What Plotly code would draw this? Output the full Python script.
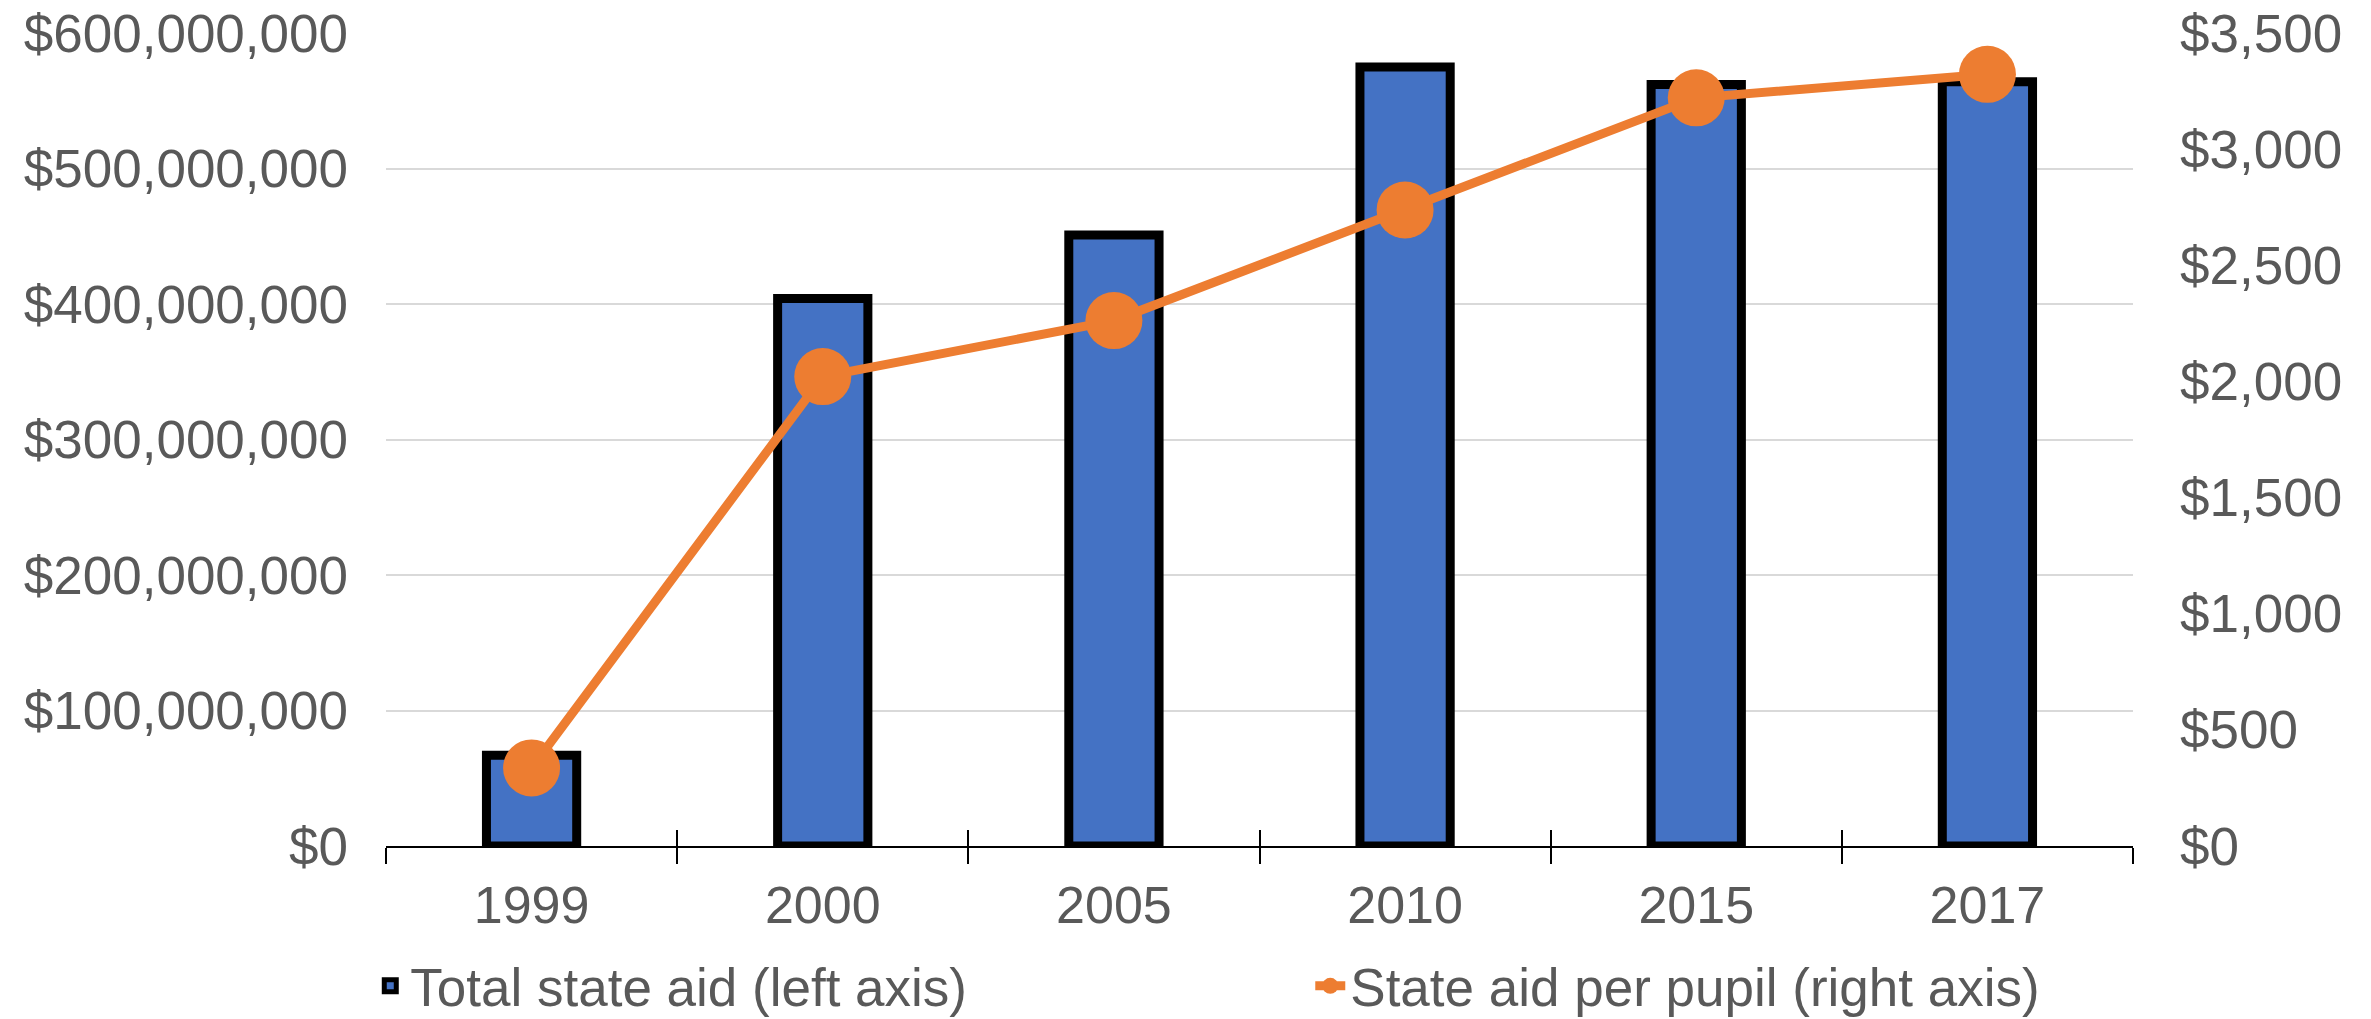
import plotly.graph_objects as go

years = ["1999", "2000", "2005", "2010", "2015", "2017"]
total_aid = [67_000_000, 404_000_000, 451_000_000, 575_000_000, 562_000_000, 564_000_000]
aid_per_pupil = [336, 2021, 2262, 2738, 3221, 3322]

left_ticks = [0, 100_000_000, 200_000_000, 300_000_000, 400_000_000, 500_000_000, 600_000_000]
right_ticks = [0, 500, 1000, 1500, 2000, 2500, 3000, 3500]
left_labels = ["$" + format(v, ",") for v in left_ticks]
right_labels = ["$" + format(v, ",") for v in right_ticks]

FONT = "Liberation Sans, Arial, sans-serif"
GREY = "#595959"

fig = go.Figure()
fig.add_trace(go.Bar(
    x=years, y=total_aid, name="Total state aid (left axis)",
    marker=dict(color="#4472C4", line=dict(color="black", width=9)),
    width=0.31, yaxis="y",
))
fig.add_trace(go.Scatter(
    x=years, y=aid_per_pupil, name="State aid per pupil (right axis)",
    mode="lines+markers", yaxis="y2",
    line=dict(color="#ED7D31", width=9),
    marker=dict(color="#ED7D31", size=57),
))
# invisible carrier so the overlaid tick axis (inside ticks) gets drawn
fig.add_trace(go.Scatter(
    x=years, y=[None] * len(years), xaxis="x2", yaxis="y",
    showlegend=False, hoverinfo="skip", mode="markers",
))

fig.update_layout(
    width=2371, height=1019,
    margin=dict(l=386, r=238, t=33, b=173, autoexpand=False),
    paper_bgcolor="white", plot_bgcolor="white",
    font=dict(family=FONT, size=52, color=GREY),
    showlegend=True,
    legend=dict(orientation="h", x=-0.009, y=-0.172, xanchor="left", yanchor="middle",
                font=dict(size=53, color=GREY), entrywidth=895,
                entrywidthmode="pixels", itemwidth=30, traceorder="normal",
                bgcolor="rgba(0,0,0,0)"),
    xaxis=dict(type="category", range=[-0.5, 5.5], showline=True, linecolor="black", linewidth=2,
               ticks="outside", ticklen=16, tickwidth=2, tickcolor="black",
               tickson="boundaries", showgrid=False,
               tickfont=dict(size=52, color=GREY), ticklabelstandoff=13),
    xaxis2=dict(type="category", range=[-0.5, 5.5], overlaying="x", anchor="y", side="bottom",
                ticks="inside", ticklen=16, tickwidth=2, tickcolor="black",
                tickson="boundaries", showticklabels=False, showgrid=False,
                showline=False, zeroline=False),
    yaxis=dict(range=[0, 600_000_000], tickvals=left_ticks, ticktext=left_labels,
               showgrid=True, gridcolor="#D9D9D9", gridwidth=2,
               zeroline=False, showline=False, ticks="",
               tickfont=dict(size=53, color=GREY), ticklabelstandoff=37),
    yaxis2=dict(range=[0, 3500], tickvals=right_ticks, ticktext=right_labels,
                overlaying="y", side="right", showgrid=False,
                zeroline=False, showline=False, ticks="",
                tickfont=dict(size=53, color=GREY), ticklabelstandoff=46),
    bargap=0.69,
)

fig.write_html("out.html")
